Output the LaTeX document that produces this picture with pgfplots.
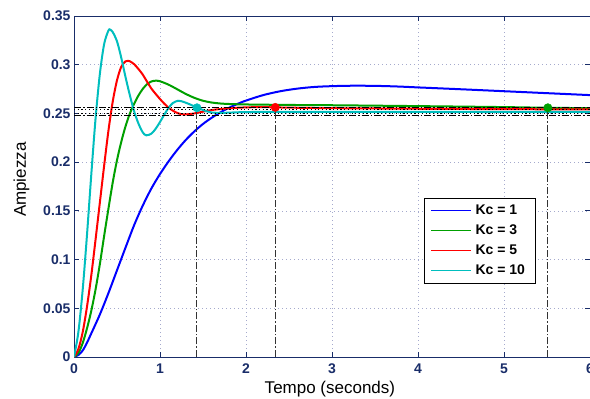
\documentclass[border=0pt]{standalone}
\usepackage{pgfplots}
\pgfplotsset{compat=1.18}
\usepackage{fontspec}
\setmainfont{Liberation Sans}
\definecolor{navy}{RGB}{25,45,105}
\definecolor{gridc}{RGB}{165,170,205}
\definecolor{mgreen}{RGB}{0,160,0}
\definecolor{mcyan}{RGB}{0,190,190}
\definecolor{mred}{RGB}{255,0,0}
\definecolor{mblue}{RGB}{0,0,255}
\begin{document}
\begin{tikzpicture}
\begin{axis}[
  scale only axis, width=516pt, height=341pt,
  xmin=0, xmax=6, ymin=0, ymax=0.35,
  xtick={0,1,2,3,4,5,6},
  ytick={0,0.05,0.1,0.15,0.2,0.25,0.3,0.35},
  scaled y ticks=false,
  yticklabel style={/pgf/number format/fixed, /pgf/number format/precision=2},
  /pgf/number format/assume math mode=true,
  tick label style={font=\bfseries\fontsize{14}{14}\selectfont, text=navy},
  xticklabel style={yshift=-3pt},
  axis line style={navy, line width=0.9pt},
  tick style={navy, line width=0.8pt},
  major tick length=5pt,
  tick align=inside,
  grid=major,
  major grid style={gridc, line width=0.7pt, dash pattern=on 1pt off 3pt},
  xlabel={Tempo (seconds)},
  ylabel={Ampiezza},
  label style={font=\fontsize{17}{17}\selectfont, text=black},
  xlabel style={at={(axis description cs:0.496,-0.1056)}, anchor=base},
  ylabel style={at={(axis description cs:-0.124,0.52)}, anchor=north},
  legend style={name=leg, at={(0.679,0.466)}, anchor=north west, draw=none, fill=white,
    font=\bfseries\fontsize{14}{16}\selectfont, inner xsep=6pt, inner ysep=5pt,
    row sep=5pt, nodes={inner ysep=1pt, inner xsep=4pt, text height=10pt, text depth=3pt}},
  legend cell align=left,
  legend image code/.code={\draw[#1, line width=1pt] (0pt,0pt) -- (40pt,0pt);},
]
% Kc = 1
\addplot[color=mblue, line width=2pt, smooth] coordinates {
(0,0) (0.05,0.002) (0.1,0.0065) (0.15,0.0145) (0.2,0.024) (0.3,0.0435) (0.4,0.0655) (0.5,0.089)
(0.6,0.1125) (0.7,0.1355) (0.8,0.1555) (0.9,0.1730) (1.0,0.1878) (1.1,0.2008) (1.2,0.2125)
(1.3,0.2228) (1.4,0.2316) (1.5,0.2392) (1.6,0.2455) (1.7,0.2510) (1.8,0.2557) (1.9,0.2597)
(2.0,0.2632) (2.2,0.2688) (2.4,0.2728) (2.6,0.2755) (2.8,0.2772) (3.0,0.2780) (3.2,0.2784)
(3.4,0.2784) (3.6,0.2781) (3.8,0.2775) (4.0,0.2767) (4.5,0.2748) (5.0,0.2728) (5.5,0.2708) (6.0,0.2688)};
\addlegendentry{Kc = 1}
% Kc = 3
\addplot[color=mgreen, line width=2pt, smooth] coordinates {
(0,0) (0.05,0.004) (0.1,0.014) (0.15,0.029) (0.2,0.047) (0.25,0.069) (0.3,0.095) (0.35,0.124)
(0.4,0.152) (0.45,0.179) (0.5,0.202) (0.55,0.221) (0.6,0.237) (0.65,0.250) (0.7,0.260)
(0.75,0.2685) (0.8,0.2752) (0.85,0.2800) (0.9,0.2828) (0.95,0.2836) (1.0,0.2830) (1.1,0.2795)
(1.2,0.2748) (1.3,0.2700) (1.4,0.2660) (1.5,0.2630) (1.6,0.2612) (1.7,0.2602) (1.8,0.2597)
(2.0,0.2592) (2.5,0.2587) (3.0,0.2584) (4.0,0.2575) (5.0,0.2565) (5.5,0.2558) (6.0,0.2554)};
\addlegendentry{Kc = 3}
% Kc = 5
\addplot[color=mred, line width=2pt, smooth] coordinates {
(0,0) (0.05,0.008) (0.1,0.025) (0.15,0.051) (0.2,0.083) (0.25,0.120) (0.3,0.158) (0.35,0.196)
(0.4,0.232) (0.45,0.262) (0.5,0.284) (0.55,0.298) (0.6,0.3035) (0.63,0.3040) (0.65,0.3035)
(0.7,0.3005) (0.75,0.2955) (0.8,0.2898) (0.85,0.2825) (0.9,0.2755) (0.95,0.2700) (1.0,0.2648)
(1.05,0.2600) (1.1,0.2560) (1.15,0.2528) (1.2,0.2505) (1.25,0.2492) (1.3,0.2490) (1.4,0.2500)
(1.5,0.2518) (1.6,0.2535) (1.8,0.2553) (2.0,0.2562) (2.2,0.2565) (2.34,0.2562) (2.6,0.2558)
(3.0,0.2554) (4.0,0.2548) (5.0,0.2544) (6.0,0.2541)};
\addlegendentry{Kc = 5}
% Kc = 10
\addplot[color=mcyan, line width=2pt, smooth] coordinates {
(0,0) (0.05,0.025) (0.1,0.068) (0.15,0.124) (0.2,0.186) (0.25,0.244) (0.3,0.290) (0.35,0.321)
(0.4,0.335) (0.42,0.336) (0.45,0.3335) (0.5,0.3240) (0.55,0.3070) (0.6,0.2870) (0.65,0.2685)
(0.7,0.2520) (0.75,0.2395) (0.8,0.2305) (0.84,0.2275) (0.9,0.2293) (0.95,0.2343) (1.0,0.2412)
(1.05,0.2488) (1.1,0.2557) (1.15,0.2607) (1.21,0.2630) (1.25,0.2625) (1.3,0.2610) (1.35,0.2592)
(1.4,0.2572) (1.45,0.2553) (1.5,0.2535) (1.55,0.2520) (1.6,0.2510) (1.7,0.2505) (1.8,0.2508)
(2.0,0.2514) (2.5,0.2517) (3.0,0.2516) (6.0,0.2516)};
\addlegendentry{Kc = 10}
% settling bands and steady-state lines
\addplot[forget plot, black, line width=0.9pt, dash pattern=on 7pt off 2pt on 1.5pt off 2pt] coordinates {(0,0.2561) (6,0.2561)};
\addplot[forget plot, black, line width=0.9pt, dash pattern=on 7pt off 2pt on 1.5pt off 2pt] coordinates {(0,0.2475) (6,0.2475)};
\addplot[forget plot, black, line width=0.8pt, dash pattern=on 1.2pt off 2.5pt] coordinates {(0,0.2537) (6,0.2537)};
\addplot[forget plot, black, line width=0.8pt, dash pattern=on 1.2pt off 2.5pt] coordinates {(0,0.2503) (6,0.2503)};
% settling time verticals
\addplot[forget plot, black!80, line width=1pt, dash pattern=on 7pt off 2pt on 1.5pt off 2pt] coordinates {(1.43,0) (1.43,0.2558)};
\addplot[forget plot, black!80, line width=1pt, dash pattern=on 7pt off 2pt on 1.5pt off 2pt] coordinates {(2.34,0) (2.34,0.2562)};
\addplot[forget plot, black!80, line width=1pt, dash pattern=on 7pt off 2pt on 1.5pt off 2pt] coordinates {(5.51,0) (5.51,0.2558)};
% settling markers
\addplot[forget plot, only marks, mark=*, mark size=4.2pt, mcyan] coordinates {(1.43,0.2558)};
\addplot[forget plot, only marks, mark=*, mark size=4.2pt, mred] coordinates {(2.34,0.2562)};
\addplot[forget plot, only marks, mark=*, mark size=4.2pt, mgreen] coordinates {(5.51,0.2558)};
\end{axis}
\draw[black, line width=0.9pt] (leg.south west) rectangle (leg.north east);
\pgfresetboundingbox
\path[use as bounding box] ([xshift=-74pt,yshift=-41pt]current axis.south west) rectangle ([yshift=16pt]current axis.north east);
\end{tikzpicture}
\end{document}
